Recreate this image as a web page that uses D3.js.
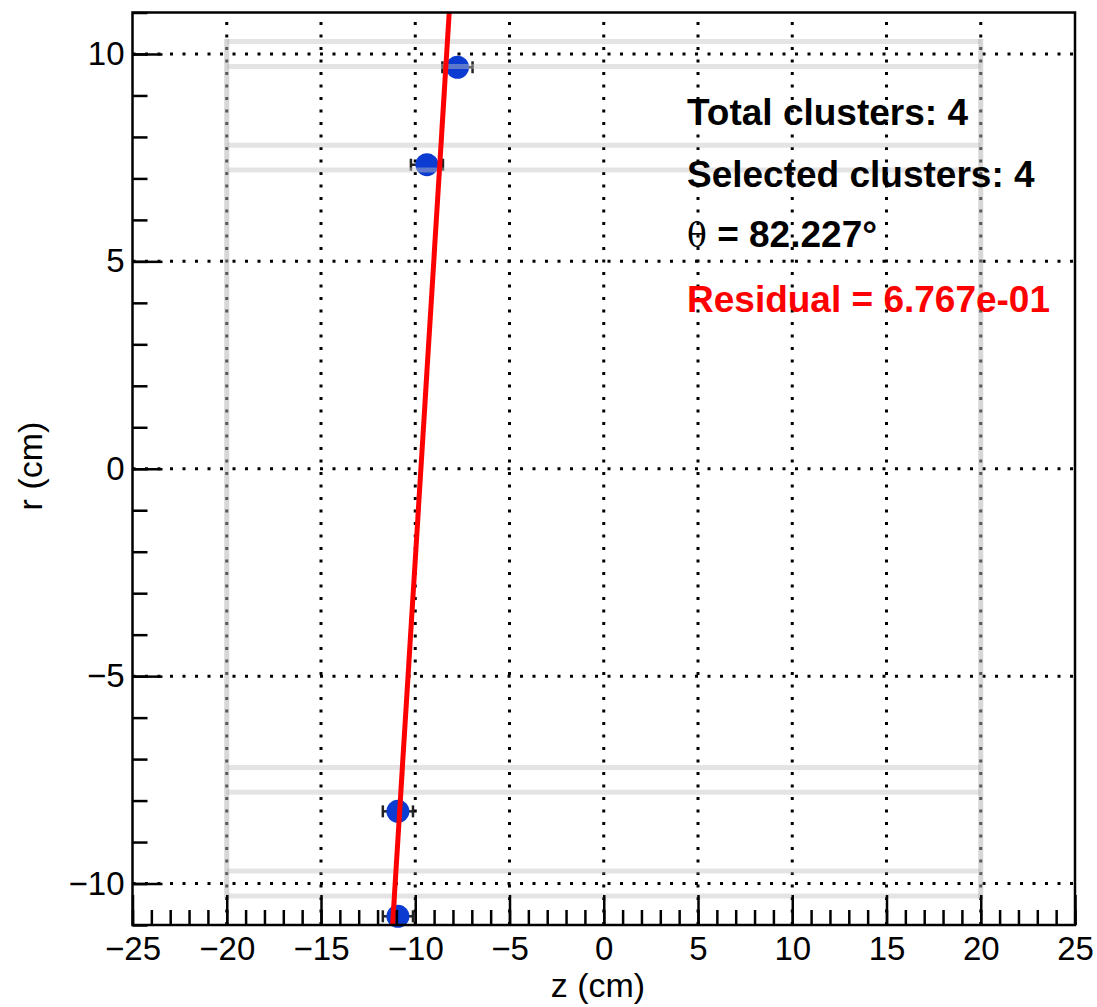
<!DOCTYPE html>
<html>
<head>
<meta charset="utf-8">
<script src="https://cdn.jsdelivr.net/npm/d3@7"></script>
<style>
  body { margin: 0; background: #fff; }
  svg { display: block; font-family: "Liberation Sans", Arial, sans-serif; }
</style>
</head>
<body>
<svg width="1097" height="1007"></svg>
<script>
// cluster positions
var clusterZ = [-7.76, -9.38, -10.92, -10.92];
var clusterR = [9.68, 7.33, -8.26, -10.79];
var clusterZErr = [0.8, 0.85, 0.8, 0.8];

// detector layers (r edges) and z extent
var layerR = [10.3, 9.7, 7.8, 7.2, -7.2, -7.8, -9.7, -10.3];
var layerZ = [-20, 20];

// fitted track: z = fitZ0 + r / tan(theta)
var fitZ0 = -9.70;
var thetaDeg = 82.227;

var infoLines = ["Total clusters: 4", "Selected clusters: 4", "82.227°", "Residual = 6.767e-01"];

var svg = d3.select("svg");
var pLeft = 132.5, pRight = 1075, pTop = 12.5, pBottom = 925;

var x = d3.scaleLinear().domain([-25, 25]).range([pLeft, pRight]);
var y = d3.scaleLinear().domain([-11, 11]).range([pBottom, pTop]);

// grid
var grid = svg.append("g");
grid.selectAll(".vg")
  .data(d3.range(-20, 21, 5))
  .enter().append("line")
  .attr("x1", function(d) { return x(d); })
  .attr("x2", function(d) { return x(d); })
  .attr("y1", pBottom)
  .attr("y2", pTop)
  .attr("stroke", "#000")
  .attr("stroke-width", 3)
  .attr("stroke-dasharray", "3 9.5");
grid.selectAll(".hg")
  .data(d3.range(-10, 11, 5))
  .enter().append("line")
  .attr("x1", pLeft)
  .attr("x2", pRight)
  .attr("y1", function(d) { return y(d); })
  .attr("y2", function(d) { return y(d); })
  .attr("stroke", "#000")
  .attr("stroke-width", 3)
  .attr("stroke-dasharray", "3 9.5");

// error bars
var pts = clusterZ.map(function(z, i) { return [z, clusterR[i], clusterZErr[i]]; });
var eb = svg.append("g").attr("stroke", "#222").attr("stroke-width", 2.5);
eb.selectAll(".eb")
  .data(pts)
  .enter().append("line")
  .attr("x1", function(d) { return x(d[0] - d[2]); })
  .attr("x2", function(d) { return x(d[0] + d[2]); })
  .attr("y1", function(d) { return y(d[1]); })
  .attr("y2", function(d) { return y(d[1]); });
[-1, 1].forEach(function(s) {
  eb.selectAll(".cap" + s)
    .data(pts)
    .enter().append("line")
    .attr("x1", function(d) { return x(d[0] + s * d[2]); })
    .attr("x2", function(d) { return x(d[0] + s * d[2]); })
    .attr("y1", function(d) { return y(d[1]) - 6; })
    .attr("y2", function(d) { return y(d[1]) + 6; });
});

// clusters
svg.selectAll(".pt")
  .data(pts)
  .enter().append("circle")
  .attr("cx", function(d) { return x(d[0]); })
  .attr("cy", function(d) { return y(d[1]); })
  .attr("r", 11.5)
  .attr("fill", "#0b3bd1");

// layers, semi transparent on top
var lay = svg.append("g").attr("stroke", "rgba(195,195,195,0.45)").attr("stroke-width", 5);
lay.selectAll(".lh")
  .data(layerR)
  .enter().append("line")
  .attr("x1", x(layerZ[0]))
  .attr("x2", x(layerZ[1]))
  .attr("y1", function(d) { return y(d); })
  .attr("y2", function(d) { return y(d); });
lay.selectAll(".lv")
  .data(layerZ)
  .enter().append("line")
  .attr("x1", function(d) { return x(d); })
  .attr("x2", function(d) { return x(d); })
  .attr("y1", y(d3.max(layerR)) - 2.5)
  .attr("y2", y(d3.min(layerR)) + 2.5)
  .attr("stroke", "rgba(175,175,175,0.5)");

// fit line
var slope = 1 / Math.tan(thetaDeg * Math.PI / 180);
svg.append("path")
  .datum([-11, 11])
  .attr("d", d3.line()
    .x(function(r) { return x(fitZ0 + r * slope); })
    .y(function(r) { return y(r); }))
  .attr("stroke", "#ff0000")
  .attr("stroke-width", 5)
  .attr("fill", "none");

// axes, ticks pointing inward
var fmt = d3.format("d");
var xMajor = svg.append("g")
  .attr("transform", "translate(0," + pBottom + ")")
  .call(d3.axisBottom(x).tickValues(d3.range(-25, 26, 5)).tickSize(-30).tickPadding(12).tickFormat(fmt));
var xMinor = svg.append("g")
  .attr("transform", "translate(0," + pBottom + ")")
  .call(d3.axisBottom(x).tickValues(d3.range(-25, 26, 1)).tickSize(-15).tickFormat(""));
var yMajor = svg.append("g")
  .attr("transform", "translate(" + pLeft + ",0)")
  .call(d3.axisLeft(y).tickValues(d3.range(-10, 11, 5)).tickSize(-30).tickPadding(8).tickFormat(fmt));
var yMinor = svg.append("g")
  .attr("transform", "translate(" + pLeft + ",0)")
  .call(d3.axisLeft(y).tickValues(d3.range(-11, 12, 1)).tickSize(-15).tickFormat(""));

[xMajor, xMinor, yMajor, yMinor].forEach(function(g) {
  g.select(".domain").remove();
  g.selectAll(".tick line").attr("stroke", "#000").attr("stroke-width", 2.5);
  g.selectAll("text").attr("fill", "#000").style("font-size", "33px")
    .style("font-family", "Liberation Sans, Arial, sans-serif");
});

// frame
svg.append("rect")
  .attr("x", pLeft)
  .attr("y", pTop)
  .attr("width", pRight - pLeft)
  .attr("height", pBottom - pTop)
  .attr("fill", "none")
  .attr("stroke", "#000")
  .attr("stroke-width", 2.5);

// axis titles
svg.append("text")
  .text("z (cm)")
  .attr("x", 598)
  .attr("y", 997)
  .attr("text-anchor", "middle")
  .attr("font-size", 34);
svg.append("text")
  .text("r (cm)")
  .attr("transform", "translate(42,466) rotate(-90)")
  .attr("text-anchor", "middle")
  .attr("font-size", 34);

// info text
var info = svg.append("g").attr("font-size", 37).attr("font-weight", "bold");
info.append("text").text(infoLines[0]).attr("x", 687).attr("y", 125);
info.append("text").text(infoLines[1]).attr("x", 687).attr("y", 187);
var th = info.append("text").attr("x", 687).attr("y", 247);
th.append("tspan").text("θ").attr("font-weight", "normal").style("font-family", "DejaVu Serif, serif").attr("font-size", 33);
th.append("tspan").text(" = " + infoLines[2]);
info.append("text").text(infoLines[3]).attr("x", 687).attr("y", 312).attr("fill", "#ff0000");
</script>
</body>
</html>
